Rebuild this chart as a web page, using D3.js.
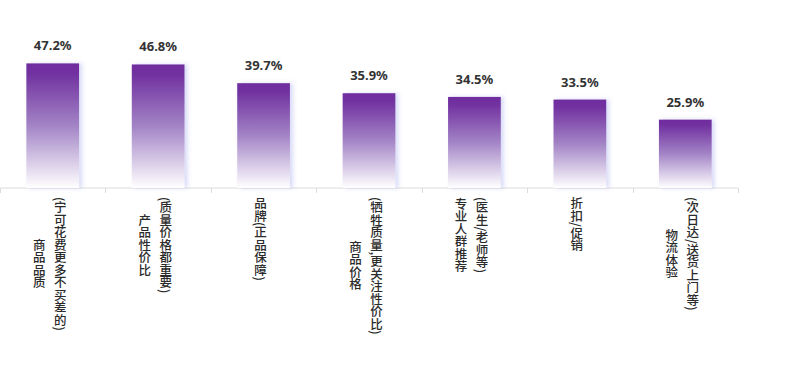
<!DOCTYPE html>
<html>
<head>
<meta charset="utf-8">
<script src="https://cdn.jsdelivr.net/npm/d3@7"></script>
<style>
html,body{margin:0;padding:0;background:#fff;}
svg{display:block;}
</style>
</head>
<body>
<svg id="chart" width="799" height="387"></svg>
<script>
const categories = ["商品品质", "产品性价比", "品牌", "商品价格", "专业人群推荐", "折扣/促销", "物流体验"];
const labelLines = [
  ["商品品质", "(宁可花费更多不买差的)"],
  ["产品性价比", "(质量价格都重要)"],
  ["品牌(正品保障)"],
  ["商品价格", "(牺牲质量,更关注性价比)"],
  ["专业人群推荐", "(医生/老师等)"],
  ["折扣/促销"],
  ["物流体验", "(次日达/送货上门等)"]
];
const values = [47.2, 46.8, 39.7, 35.9, 34.5, 33.5, 25.9];
const valueLabels = ["47.2%", "46.8%", "39.7%", "35.9%", "34.5%", "33.5%", "25.9%"];

const svg = d3.select("#chart");
const x = d3.scaleBand().domain(categories).range([0, 738]).paddingInner(0).paddingOuter(0);
const y = d3.scaleLinear().domain([0, 50]).range([188, 56]);

const defs = svg.append("defs");
const grad = defs.append("linearGradient").attr("id", "barGrad")
  .attr("x1", 0).attr("y1", 0).attr("x2", 0).attr("y2", 1);
grad.append("stop").attr("offset", "0").attr("stop-color", "#6f2c9f");
grad.append("stop").attr("offset", "0.08").attr("stop-color", "#7131a0");
grad.append("stop").attr("offset", "0.5").attr("stop-color", "#a384c6");
grad.append("stop").attr("offset", "1").attr("stop-color", "#ffffff");
const flt = defs.append("filter").attr("id", "shadow")
  .attr("x", "-20%").attr("y", "-10%").attr("width", "140%").attr("height", "120%");
flt.append("feDropShadow").attr("dx", 3).attr("dy", 0).attr("stdDeviation", 2)
  .attr("flood-color", "#6070e0").attr("flood-opacity", 0.25);

// axis
const axis = d3.axisBottom(x).tickSize(5).tickFormat("");
const gAxis = svg.append("g").attr("transform", "translate(0,188)").call(axis);
gAxis.select(".domain").attr("stroke", "#dcdcdc").attr("d", "M0.5,0H738.5");
gAxis.selectAll(".tick").remove();
const bounds = categories.map(c => x(c)).concat([738]);
gAxis.selectAll("line.bt").data(bounds).enter().append("line")
  .attr("class", "bt")
  .attr("x1", d => Math.round(d) + 0.5).attr("x2", d => Math.round(d) + 0.5)
  .attr("y1", 0).attr("y2", 5).attr("stroke", "#dcdcdc");

const bw = x.bandwidth() * 0.5;
svg.append("g").selectAll("rect").data(values).enter().append("rect")
  .attr("x", (d, i) => x(categories[i]) + (x.bandwidth() - bw) / 2)
  .attr("y", d => y(d))
  .attr("width", bw)
  .attr("height", d => y(0) - y(d))
  .attr("fill", "url(#barGrad)")
  .attr("filter", "url(#shadow)");

svg.append("g").selectAll("text").data(values).enter().append("text")
  .attr("x", (d, i) => x(categories[i]) + x.bandwidth() / 2)
  .attr("y", d => y(d) - 13)
  .attr("text-anchor", "middle")
  .attr("font-family", "'Noto Sans', 'Noto Sans CJK SC', sans-serif")
  .attr("font-weight", "bold")
  .attr("font-size", "13px")
  .attr("fill", "#333")
  .text((d, i) => valueLabels[i]);

// vertical category labels
const gl = svg.append("g");
labelLines.forEach((lines, i) => {
  const cx = x(categories[i]) + x.bandwidth() / 2 - 3;
  const n = lines.length;
  const texts = lines.map((ln, j) => {
    const colX = cx + (j - (n - 1) / 2) * 21;
    return gl.append("text")
      .attr("x", colX).attr("y", 0)
      .attr("font-family", "'Noto Sans CJK SC', sans-serif")
      .attr("font-size", "12.5px")
      .attr("font-weight", "500")
      .attr("fill", "#2b2b2b")
      .style("writing-mode", "vertical-lr")
      .attr("text-anchor", "middle")
      .text(ln);
  });
  const lens = texts.map(t => t.node().getComputedTextLength());
  const maxLen = d3.max(lens);
  const cy = 197 + maxLen / 2;
  texts.forEach(t => t.attr("y", cy));
});
</script>
</body>
</html>
